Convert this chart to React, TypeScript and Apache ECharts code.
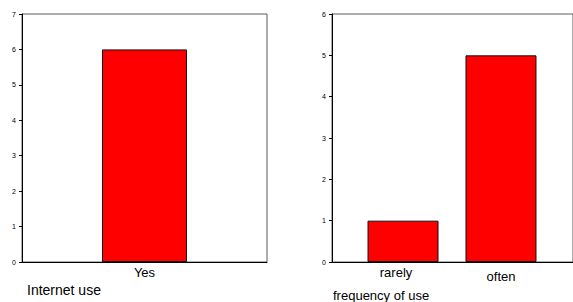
import React, { useEffect, useRef } from "react";
import * as echarts from "echarts";

const internetCategories = ["Yes"];
const internetCounts = [6];
const internetTicks = [0, 1, 2, 3, 4, 5, 6, 7];

const frequencyCategories = ["rarely", "often"];
const frequencyCounts = [1, 5];
const frequencyTicks = [0, 1, 2, 3, 4, 5, 6];

const leftTitle = "Internet use";
const rightTitle = "frequency of use";

const FONT = "'Liberation Sans', Arial, sans-serif";

export default function App() {
  const ref = useRef<HTMLDivElement>(null);

  useEffect(() => {
    if (!ref.current) return;
    const chart = echarts.init(ref.current, undefined, { renderer: "svg" });

    const yAxisCommon = (max: number, gridIndex: number) => ({
      type: "value" as const,
      gridIndex,
      min: 0,
      max,
      interval: 1,
      splitLine: { show: false },
      axisLine: { show: true, lineStyle: { color: "#000", width: 1 } },
      axisTick: { show: true, length: 3, lineStyle: { color: "#000" } },
      axisLabel: { fontSize: 7, color: "#000", margin: 6, fontFamily: FONT },
    });

    chart.setOption({
      animation: false,
      backgroundColor: "#fff",
      grid: [
        {
          left: 22,
          top: 14,
          width: 245,
          height: 248,
          show: true,
          borderColor: "#5a5a5a",
          borderWidth: 1,
          backgroundColor: "transparent",
        },
        {
          left: 332,
          top: 14,
          width: 246,
          height: 248,
          show: true,
          borderColor: "#5a5a5a",
          borderWidth: 1,
          backgroundColor: "transparent",
        },
      ],
      xAxis: [
        {
          type: "category",
          gridIndex: 0,
          data: internetCategories,
          boundaryGap: true,
          axisLine: { show: true, lineStyle: { color: "#000" } },
          axisTick: { show: false },
          axisLabel: { fontSize: 13, color: "#000", margin: 4, fontFamily: FONT },
        },
        {
          type: "value",
          gridIndex: 1,
          min: 0.275,
          max: 2.735,
          splitLine: { show: false },
          axisLine: { show: true, lineStyle: { color: "#000" } },
          axisTick: { show: false },
          axisLabel: {
            customValues: frequencyCategories.map((_, i) => i + 1),
            color: "#000",
            margin: 4,
            fontSize: 13,
            fontFamily: FONT,
            formatter: (v: number) => {
              const i = Math.round(v) - 1;
              const name = frequencyCategories[i] ?? "";
              return i % 2 === 1 ? "{low|" + name + "}" : "{high|" + name + "}";
            },
            rich: {
              high: { fontSize: 13, color: "#000", fontFamily: FONT, padding: [0, 14, 0, 0] },
              low: { fontSize: 13, color: "#000", fontFamily: FONT, padding: [4, 0, 0, 0] },
            },
          },
        },
      ],
      yAxis: [
        { ...yAxisCommon(internetTicks[internetTicks.length - 1], 0) },
        { ...yAxisCommon(frequencyTicks[frequencyTicks.length - 1], 1) },
      ],
      series: [
        {
          type: "bar",
          xAxisIndex: 0,
          yAxisIndex: 0,
          data: internetCounts,
          barWidth: 85,
          itemStyle: { color: "#ff0000", borderColor: "#111", borderWidth: 1 },
        },
        {
          type: "bar",
          xAxisIndex: 1,
          yAxisIndex: 1,
          data: frequencyCounts.map((v, i) => [i + 1, v]),
          barWidth: 71,
          itemStyle: { color: "#ff0000", borderColor: "#111", borderWidth: 1 },
        },
      ],
      graphic: [
        {
          type: "text",
          left: 27,
          top: 283,
          style: { text: leftTitle, fontSize: 14, fill: "#000", fontFamily: FONT },
        },
        {
          type: "text",
          left: 333,
          top: 289,
          style: { text: rightTitle, fontSize: 13, fill: "#000", fontFamily: FONT },
        },
      ],
    });

    return () => chart.dispose();
  }, []);

  return (
    <div
      ref={ref}
      style={{ position: "absolute", left: 0, top: 0, width: 573, height: 302 }}
    />
  );
}
